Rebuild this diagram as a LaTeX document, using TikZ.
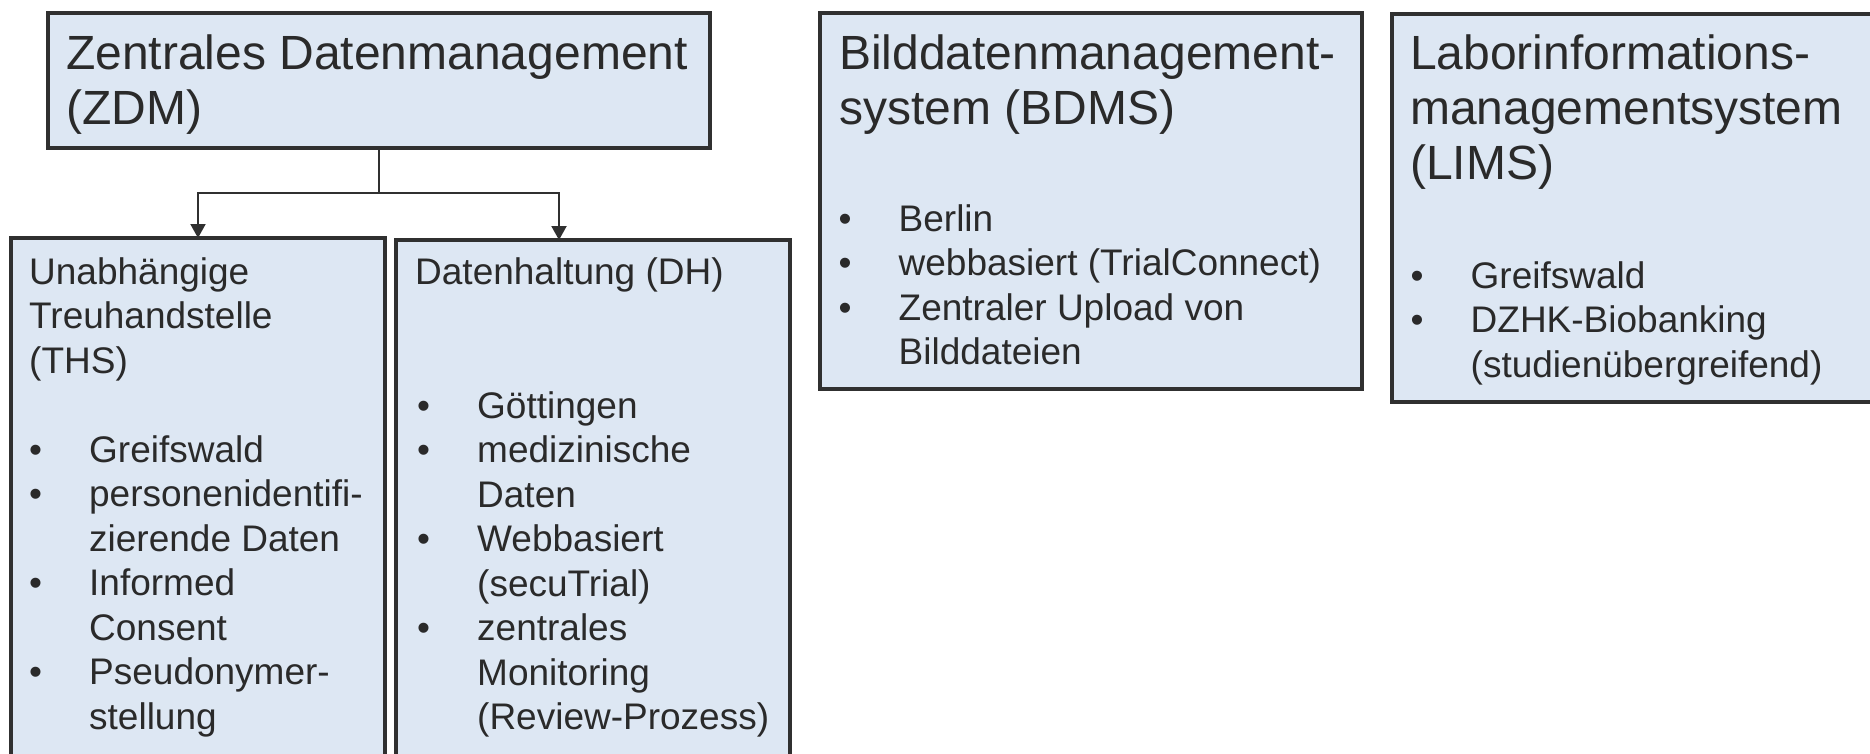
\documentclass[tikz,border=0pt]{standalone}
\usepackage{fontspec}
\setmainfont{Liberation Sans}
\usetikzlibrary{arrows.meta}
\definecolor{boxfill}{HTML}{DDE7F3}
\definecolor{boxline}{HTML}{303030}
\definecolor{txt}{HTML}{2A2A2A}
\newcommand\bline[1]{\hbox{#1}}
\newcommand\bitem[1]{\hbox{\hbox to 60pt{•\hss}#1}}
\newcommand\bcont[1]{\hbox{\hskip60pt #1}}
\tikzset{
  box/.style={draw=boxline, line width=3.5pt, fill=boxfill, rectangle,
    inner sep=0pt, outer sep=0pt, anchor=north west},
  ttl/.style={anchor=base west, inner sep=0pt, text=txt,
    font=\fontsize{48}{55}\selectfont},
  bdy/.style={anchor=base west, inner sep=0pt, text=txt,
    font=\fontsize{37}{44.5}\selectfont},
  conn/.style={draw=boxline, line width=2pt, -{Triangle[length=14pt,width=15pt]}},
}
\begin{document}
\begin{tikzpicture}[x=1pt,y=-1pt]
\useasboundingbox (0,0) rectangle (1870,753);
\clip (0,0) rectangle (1870,753);
% boxes
\node[box, minimum width=662pt, minimum height=135pt] (zdm) at (48,13) {};
\node[box, minimum width=374pt, minimum height=540pt] (ths) at (11,238) {};
\node[box, minimum width=394pt, minimum height=540pt] (dh) at (396,240) {};
\node[box, minimum width=542pt, minimum height=376pt] (bdms) at (820,13) {};
\node[box, minimum width=520pt, minimum height=388pt] (lims) at (1392,14) {};
% connectors
\coordinate (dhin) at ([xshift=163pt]dh.north west);
\draw[conn] (zdm.south) -- ++(0,45) coordinate (junc) -| (ths.north);
\draw[conn] (junc) -| (dhin);
% ZDM
\node[ttl] (zdmt) at (66,69) {\vtop{\bline{Zentrales Datenmanagement}\bline{(ZDM)}}};
% THS
\node[bdy] (thst) at (29,284) {\vtop{\bline{Unabhängige}\bline{Treuhandstelle}\bline{(THS)}}};
\node[bdy] (thsl) at (29,462) {\vtop{\bitem{Greifswald}\bitem{personenidentifi-}\bcont{zierende Daten}\bitem{Informed}\bcont{Consent}\bitem{Pseudonymer-}\bcont{stellung}}};
% DH
\node[bdy] (dht) at (415,284) {\vtop{\bline{Datenhaltung (DH)}}};
\node[bdy] (dhl) at (417,418) {\vtop{\bitem{Göttingen}\bitem{medizinische}\bcont{Daten}\bitem{Webbasiert}\bcont{(secuTrial)}\bitem{zentrales}\bcont{Monitoring}\bcont{(Review-Prozess)}}};
% BDMS
\node[ttl] (bdmst) at (839,69) {\vtop{\bline{Bilddatenmanagement-}\bline{system (BDMS)}}};
\node[bdy] (bdmsl) at (838.5,231) {\vtop{\bitem{Berlin}\bitem{webbasiert (TrialConnect)}\bitem{Zentraler Upload von}\bcont{Bilddateien}}};
% LIMS
\node[ttl] (limst) at (1410,69) {\vtop{\bline{Laborinformations-}\bline{managementsystem}\bline{(LIMS)}}};
\node[bdy] (limsl) at (1410.5,288) {\vtop{\bitem{Greifswald}\bitem{DZHK-Biobanking}\bcont{(studienübergreifend)}}};
\end{tikzpicture}
\end{document}
